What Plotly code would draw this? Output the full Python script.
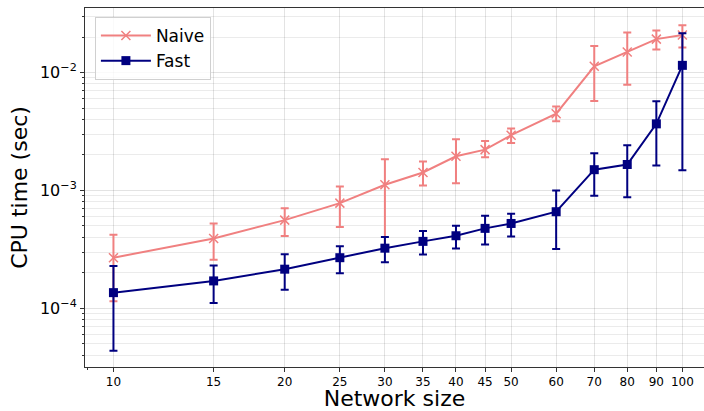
import plotly.graph_objects as go

sizes = [10, 15, 20, 25, 30, 35, 40, 45, 50, 60, 70, 80, 90, 100]

naive_mean = [2.69e-4, 3.92e-4, 5.60e-4, 7.81e-4, 1.117e-3, 1.42e-3, 1.95e-3, 2.22e-3, 2.94e-3, 4.47e-3, 1.13e-2, 1.49e-2, 1.92e-2, 2.08e-2]
naive_hi = [4.22e-4, 5.25e-4, 7.08e-4, 1.08e-3, 1.84e-3, 1.76e-3, 2.72e-3, 2.63e-3, 3.35e-3, 5.15e-3, 1.68e-2, 2.18e-2, 2.27e-2, 2.52e-2]
naive_lo = [1.15e-4, 2.59e-4, 4.10e-4, 4.89e-4, 3.35e-4, 1.10e-3, 1.15e-3, 1.91e-3, 2.52e-3, 3.86e-3, 5.73e-3, 7.86e-3, 1.57e-2, 1.63e-2]

fast_mean = [1.36e-4, 1.71e-4, 2.15e-4, 2.69e-4, 3.24e-4, 3.70e-4, 4.13e-4, 4.77e-4, 5.25e-4, 6.60e-4, 1.50e-3, 1.66e-3, 3.67e-3, 1.15e-2]
fast_hi = [2.29e-4, 2.31e-4, 2.88e-4, 3.37e-4, 4.02e-4, 4.52e-4, 5.02e-4, 6.10e-4, 6.35e-4, 1.00e-3, 2.07e-3, 2.42e-3, 5.71e-3, 2.15e-2]
fast_lo = [4.38e-5, 1.11e-4, 1.44e-4, 1.99e-4, 2.46e-4, 2.87e-4, 3.22e-4, 3.48e-4, 4.07e-4, 3.19e-4, 9.02e-4, 8.77e-4, 1.63e-3, 1.48e-3]

x_ticks = sizes
y_major = [1e-4, 1e-3, 1e-2]
y_major_text = ["10<sup>\u22124</sup>", "10<sup>\u22123</sup>", "10<sup>\u22122</sup>"]

NAIVE_C = "#F08080"
FAST_C = "#000080"

def err(mean, hi, lo):
    return dict(type="data", symmetric=False,
                array=[h - m for h, m in zip(hi, mean)],
                arrayminus=[m - l for m, l in zip(mean, lo)])

fig = go.Figure()
fig.add_trace(go.Scatter(
    x=sizes, y=naive_mean, name="Naive", mode="lines+markers",
    line=dict(color=NAIVE_C, width=2),
    marker=dict(symbol="x-thin", size=9, line=dict(color=NAIVE_C, width=1.5), color=NAIVE_C),
    error_y=dict(**err(naive_mean, naive_hi, naive_lo), color=NAIVE_C, thickness=2, width=4),
))
fig.add_trace(go.Scatter(
    x=sizes, y=fast_mean, name="Fast", mode="lines+markers",
    line=dict(color=FAST_C, width=2),
    marker=dict(symbol="square", size=9, color=FAST_C),
    error_y=dict(**err(fast_mean, fast_hi, fast_lo), color=FAST_C, thickness=2, width=4),
))

minor_y = [k * 10.0 ** e for e in range(-5, -1) for k in range(2, 10)]

fig.update_layout(
    width=704, height=411,
    margin=dict(l=85, r=0, t=8, b=44),
    paper_bgcolor="white", plot_bgcolor="white",
    font=dict(family="DejaVu Sans", color="black"),
    showlegend=True,
    legend=dict(x=0.016, y=0.975, xanchor="left", yanchor="top",
                bgcolor="rgba(255,255,255,0.8)", bordercolor="#d0d0d0", borderwidth=1,
                font=dict(size=17), itemwidth=50, tracegroupgap=0),
)
fig.update_xaxes(
    type="log", range=[0.95, 2.038],
    tickmode="array", tickvals=x_ticks, ticktext=[str(v) for v in x_ticks],
    tickfont=dict(size=12),
    ticks="outside", ticklen=4, tickcolor="#333",
    showline=True, linecolor="#333", linewidth=1, mirror=True,
    showgrid=True, gridcolor="rgba(0,0,0,0.11)", gridwidth=1,
    minor=dict(tickvals=[9], ticks="outside", ticklen=2, tickcolor="#333", showgrid=False),
    title=dict(text="Network size", font=dict(size=22), standoff=4),
    zeroline=False,
)
fig.update_yaxes(
    type="log", range=[-4.497, -1.453],
    tickmode="array", tickvals=y_major, ticktext=y_major_text,
    tickfont=dict(size=16),
    ticks="outside", ticklen=4, tickcolor="#333",
    showline=True, linecolor="#333", linewidth=1,
    showgrid=True, gridcolor="rgba(0,0,0,0.11)", gridwidth=1,
    minor=dict(tickvals=minor_y, ticks="outside", ticklen=2, tickcolor="#333",
               showgrid=True, gridcolor="rgba(0,0,0,0.08)", gridwidth=1),
    title=dict(text="CPU time (sec)", font=dict(size=22), standoff=6),
    zeroline=False,
)

fig.write_html("out.html")
